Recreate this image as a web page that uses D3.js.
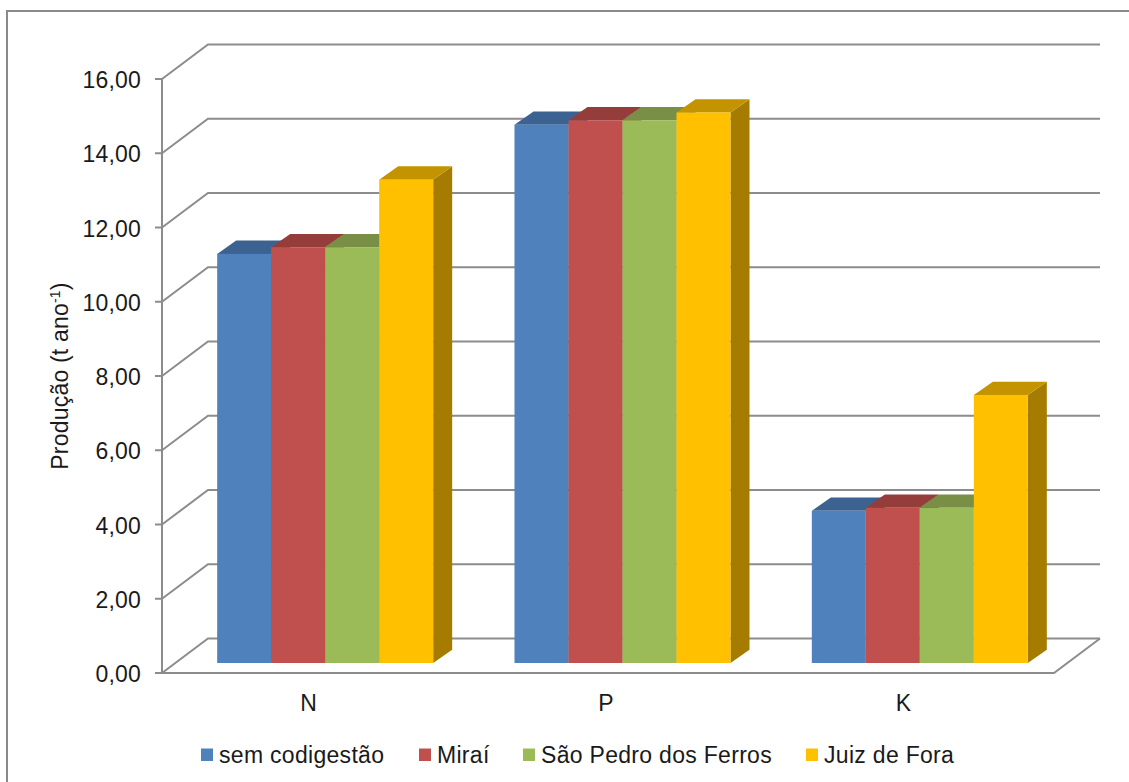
<!DOCTYPE html>
<html><head><meta charset="utf-8">
<script src="https://cdn.jsdelivr.net/npm/d3@7"></script>
<style>html,body{margin:0;background:#fff}svg{display:block}text{font-family:"Liberation Sans",Arial,sans-serif;fill:#1a1a1a}</style>
</head><body><svg id="c" width="1129" height="782"></svg>
<script>
const categories = ["N","P","K"];
const seriesNames = ["sem codigestão","Miraí","São Pedro dos Ferros","Juiz de Fora"];
const semCodigestao = [11.02,14.50,4.10];
const mirai = [11.20,14.62,4.18];
const saoPedro = [11.20,14.62,4.18];
const juizDeFora = [13.02,14.83,7.22];
const seriesValues = [semCodigestao,mirai,saoPedro,juizDeFora];
const tickValues = [0,2,4,6,8,10,12,14,16];
const faceColors = ["#4f81bd","#c0504d","#9bbb59","#ffc000"];
const topColors = ["#3c6292","#953d3a","#788f45","#c49400"];
const sideColors = ["#34557f","#823432","#687c3b","#a67c00"];

const svg = d3.select("#c");
const plotL=162,plotR=1054,plotB=673,plotT=79;
const wallDx=46,wallDy=-34.5,barDx=14.5,barDy=-10,depthDx=19,depthDy=-13.3;
const y=d3.scaleLinear().domain([0,16]).range([plotB,plotT]);
const x0=d3.scaleBand().domain(categories).range([plotL,plotR]).paddingInner(0.2735).paddingOuter(0.1368);
const x1=d3.scaleBand().domain(d3.range(4)).range([0,x0.bandwidth()]);
const grey="#8c8c8c";

svg.append("path").attr("d","M7,782V11H1129").attr("fill","none").attr("stroke","#8a8a8a").attr("stroke-width",2);

const grid=svg.append("g").attr("fill","none").attr("stroke",grey).attr("stroke-width",2);
tickValues.forEach(t=>{
  grid.append("path").attr("d",d3.line()([[plotL,y(t)],[plotL+wallDx,y(t)+wallDy],[plotR+wallDx,y(t)+wallDy]]));
});
grid.append("path").attr("d",d3.line()([[plotL,y(16)],[plotL,y(0)],[plotR,y(0)],[plotR+wallDx,y(0)+wallDy]]));

tickValues.forEach(t=>{
  svg.append("line").attr("x1",plotL-7).attr("x2",plotL).attr("y1",y(t)).attr("y2",y(t)).attr("stroke",grey).attr("stroke-width",2);
  svg.append("text").attr("x",plotL-21).attr("y",y(t)+1).attr("dy","0.35em").attr("text-anchor","end").attr("font-size",23).attr("letter-spacing",0.2).text(d3.format(".2f")(t).replace(".",","));
});

const bars=svg.append("g");
const base=y(0)+barDy;
const yb=v=>y(v)+barDy;
categories.forEach((c,i)=>{
  seriesValues.forEach((vals,s)=>{
    const v=vals[i],xl=x0(c)+barDx+x1(s),w=x1.bandwidth(),yt=yb(v);
    bars.append("path").attr("fill",sideColors[s]).attr("d",d3.line()([[xl+w,yt],[xl+w+depthDx,yt+depthDy],[xl+w+depthDx,base+depthDy],[xl+w,base]])+"Z");
    bars.append("path").attr("fill",topColors[s]).attr("d",d3.line()([[xl,yt],[xl+depthDx,yt+depthDy],[xl+w+depthDx,yt+depthDy],[xl+w,yt]])+"Z");
    bars.append("rect").attr("x",xl).attr("y",yt).attr("width",w).attr("height",base-yt).attr("fill",faceColors[s]);
  });
});

categories.forEach(c=>{
  svg.append("text").attr("x",x0(c)+x0.bandwidth()/2-2).attr("y",703).attr("dy","0.35em").attr("text-anchor","middle").attr("font-size",23).text(c);
});

const yTitle=svg.append("text").attr("transform","translate(68,376) rotate(-90)").attr("text-anchor","middle").attr("font-size",23).attr("letter-spacing",0.2);
yTitle.append("tspan").text("Produção (t ano");
yTitle.append("tspan").attr("font-size",14).attr("dy",-8).text("-1");
yTitle.append("tspan").attr("dy",8).text(")");

const legendX=[201,419,523,806];
seriesNames.forEach((n,i)=>{
  svg.append("rect").attr("x",legendX[i]).attr("y",748.5).attr("width",12).attr("height",12.5).attr("fill",faceColors[i]);
  svg.append("text").attr("x",legendX[i]+18).attr("y",755).attr("dy","0.35em").attr("font-size",23).attr("letter-spacing",0.3).text(n);
});
</script></body></html>
